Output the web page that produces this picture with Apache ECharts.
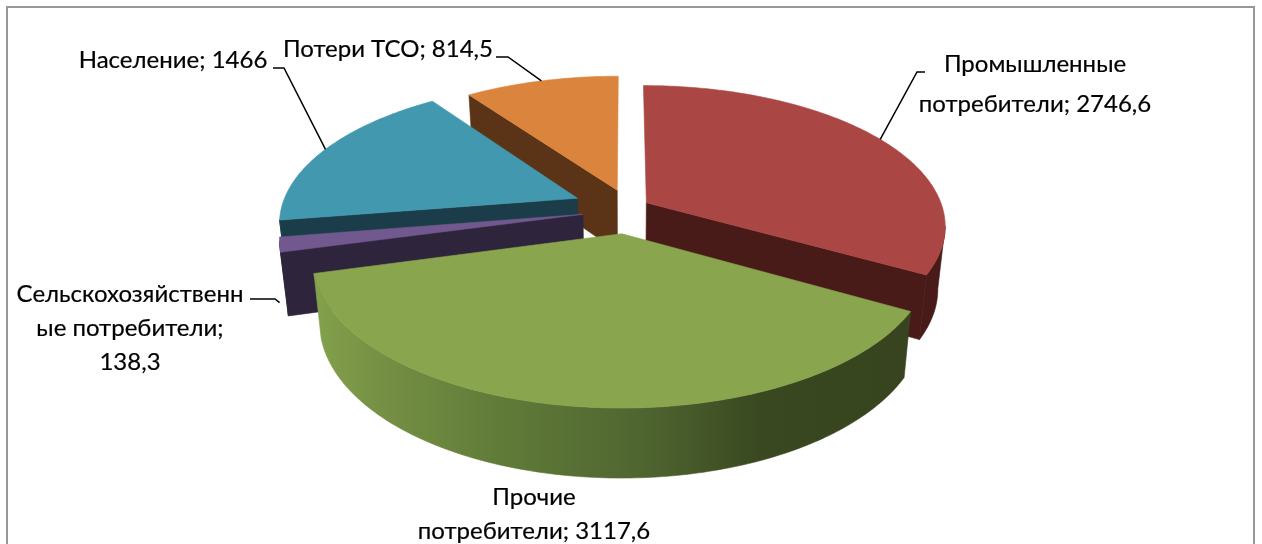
<!DOCTYPE html>
<html>
<head>
<meta charset="utf-8">
<script src="https://cdn.jsdelivr.net/npm/echarts@6/dist/echarts.min.js"></script>
<style>
html, body { margin: 0; padding: 0; background: #fff; }
#main { width: 1262px; height: 544px; }
</style>
</head>
<body>
<div id="main"></div>
<script>
const names = ['Промышленные\nпотребители', 'Прочие\nпотребители', 'Сельскохозяйственн\nые потребители;\n', 'Население', 'Потери ТСО'];
const values = [2746.6, 3117.6, 138.3, 1466, 814.5];
const topColors = ['#AA4643', '#89A54E', '#71588F', '#4198AF', '#DB843D'];
const wallColors = ['#481A18', '#37441F', '#2E243B', '#1B3D49', '#5B3417'];

// explosion of each slice, across and along the view direction
const explodeU = [1.05, 1.05, 1.8, 2.2, 1.1];
const explodeV = [1, 1, 0.3, 1.9, 1.2];
// label anchor (centre x, top y), line height, and leader knee
const labelBox = [[1035, 44, 40], [534, 480, 34], [130, 277, 34], [173, 43, 34], [388, 32, 34]];
const leaderFrom = [[925, 72, 917, 72], null, [250, 299, 275, 299], [273, 68, 284, 68], [496, 57, 508, 57]];

const cx = 625, cy = 213, radiusX = 298, radiusY = 139, persp = 0.16, depth = 62, shrink = 0.977;
const total = values.reduce((a, b) => a + b, 0);

const starts = [];
values.reduce((acc, v, i) => { starts[i] = acc; return acc + v; }, 0);

function project(i, a, r, low) {
  const mid = (starts[i] + values[i] / 2) / total * Math.PI * 2;
  const u = Math.sin(a) * r + explodeU[i] * 0.08 * Math.sin(mid);
  const v = -Math.cos(a) * r - explodeV[i] * 0.147 * Math.cos(mid);
  const s = 1 / (1 - persp * v);
  let x = radiusX * u * s;
  let y = radiusY * v * s;
  if (low) {
    x *= shrink;
    y += depth * Math.pow(s, 0.6);
  }
  return [cx + x, cy + y];
}

function arcAngles(a0, a1) {
  const n = Math.max(2, Math.ceil(Math.abs(a1 - a0) / 0.015));
  const out = [];
  for (let k = 0; k <= n; k++) out.push(a0 + (a1 - a0) * k / n);
  return out;
}

function poly(points, fill) {
  return { type: 'polygon', shape: { points: points }, style: { fill: fill, stroke: fill, lineWidth: 0.6 } };
}

const greenWall = new echarts.graphic.LinearGradient(318, 0, 910, 0, [
  { offset: 0, color: '#83A04B' },
  { offset: 0.1, color: '#769144' },
  { offset: 0.3, color: '#617C39' },
  { offset: 0.55, color: '#4F6530' },
  { offset: 0.75, color: '#394820' },
  { offset: 1, color: '#37441F' }
], true);

function renderSlice(params, api) {
  const i = api.value(0);
  const a0 = starts[i] / total * Math.PI * 2;
  const a1 = (starts[i] + values[i]) / total * Math.PI * 2;
  const apexT = project(i, 0, 0, false);
  const apexB = project(i, 0, 0, true);
  const angles = arcAngles(a0, a1);
  const top = angles.map(a => project(i, a, 1, false));
  const bottom = angles.map(a => project(i, a, 1, true));
  const wall = wallColors[i];
  const children = [];

  // only faces turned towards the viewer get drawn
  if (Math.sin(a0) < -0.01) children.push(poly([apexT, top[0], bottom[0], apexB], wall));
  if (Math.sin(a1) > 0.01) children.push(poly([apexT, top[top.length - 1], bottom[bottom.length - 1], apexB], wall));

  // outer wall, between the left and right silhouette points of the visible arc
  const seen = angles.map((a, k) => k).filter(k => Math.cos(angles[k]) <= 0.15);
  if (seen.length > 1) {
    let right = seen[0], left = seen[0];
    seen.forEach(k => {
      if (top[k][0] > top[right][0]) right = k;
      if (top[k][0] < top[left][0]) left = k;
    });
    if (right > left) right = seen[0];
    const upper = top.slice(right, left + 1);
    const lower = bottom.slice(right, left + 1).reverse();
    children.push(poly(upper.concat(lower), i === 1 ? greenWall : wall));
  }
  children.push(poly([apexT].concat(top), topColors[i]));

  // leader line goes to the middle of the slice's rim
  if (leaderFrom[i]) {
    const p = project(i, (a0 + a1) / 2, 1, false);
    if (i === 2) p[1] += 58;
    const f = leaderFrom[i];
    children.push({
      type: 'polyline',
      shape: { points: [[f[0], f[1]], [f[2], f[3]], p] },
      style: { fill: 'none', stroke: '#000', lineWidth: 1.5 }
    });
  }

  const box = labelBox[i];
  const sep = i === 2 ? '' : '; ';
  children.push({
    type: 'text',
    style: {
      text: names[i] + sep + String(values[i]).replace('.', ','),
      x: box[0],
      y: box[1],
      align: 'center',
      verticalAlign: 'top',
      lineHeight: box[2],
      fill: '#000',
      stroke: '#000',
      lineWidth: 0.2,
      font: '24px Lato, "Open Sans", sans-serif'
    }
  });
  return { type: 'group', children: children };
}

// paint from the back of the pie to the front
const drawOrder = values.map((v, i) => i).sort((a, b) =>
  Math.cos((starts[b] + values[b] / 2) / total * Math.PI * 2) -
  Math.cos((starts[a] + values[a] / 2) / total * Math.PI * 2)
);

const chart = echarts.init(document.getElementById('main'));
chart.setOption({
  animation: false,
  backgroundColor: '#fff',
  graphic: [{
    type: 'rect',
    shape: { x: 7, y: 7, width: 1247, height: 600 },
    style: { fill: 'none', stroke: '#979797', lineWidth: 2 },
    silent: true
  }],
  series: [{
    type: 'custom',
    coordinateSystem: 'none',
    renderItem: renderSlice,
    data: drawOrder.map(i => [i, values[i]])
  }]
});
</script>
</body>
</html>
